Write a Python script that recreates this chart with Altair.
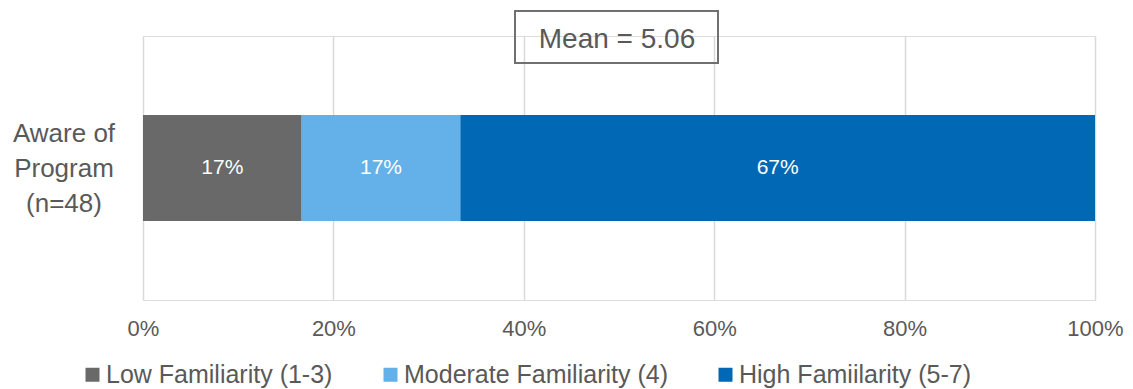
import altair as alt
import pandas as pd

# Survey responses among respondents aware of the program
levels = ["Low Familiarity (1-3)", "Moderate Familiarity (4)", "High Famiilarity (5-7)"]
counts = [8, 8, 32]
level_rank = [0, 1, 2]
group_label = "Aware of|Program|(n=48)"
level_colors = ["#696969", "#63B1E8", "#0068B5"]
mean_text = "Mean = 5.06"
tick_values = [0, 0.2, 0.4, 0.6, 0.8, 1.0]

FONT = "Liberation Sans"
TEXT_GREY = "#595959"

df = pd.DataFrame({
    "group": [group_label] * len(levels),
    "level": levels,
    "count": counts,
    "rank": level_rank,
})

base = (
    alt.Chart(df)
    .transform_joinaggregate(total="sum(count)")
    .transform_calculate(pct="datum.count / datum.total")
    .transform_window(cum="sum(pct)", sort=[alt.SortField("rank")], frame=[None, 0])
    .transform_calculate(start="datum.cum - datum.pct", mid="datum.cum - datum.pct / 2")
)

bars = base.mark_bar(size=106).encode(
    x=alt.X(
        "start:Q",
        scale=alt.Scale(domain=[0, 1], nice=False),
        axis=alt.Axis(
            values=tick_values,
            format="%",
            title=None,
            domain=False,
            ticks=False,
            grid=True,
            gridColor="#d9d9d9",
            gridWidth=1.5,
            labelFontSize=22,
            labelColor=TEXT_GREY,
            labelFont=FONT,
            labelPadding=18,
            labelFlush=False,
        ),
    ),
    x2="cum:Q",
    y=alt.Y("group:N", axis=None),
    color=alt.Color(
        "level:N",
        scale=alt.Scale(domain=levels, range=level_colors),
        legend=alt.Legend(
            title=None,
            orient="none",
            legendX=-63,
            legendY=326,
            direction="horizontal",
            symbolType="square",
            symbolSize=196,
            symbolStrokeWidth=0,
            labelFontSize=25,
            labelFont=FONT,
            labelColor=TEXT_GREY,
            labelOffset=1,
            labelLimit=500,
            columnPadding=45,
        ),
    ),
)

bar_labels = base.mark_text(color="white", fontSize=21, font=FONT).encode(
    x="mid:Q",
    y="group:N",
    text=alt.Text("pct:Q", format=".0%"),
)

group_text = (
    alt.Chart(pd.DataFrame({"group": [group_label]}))
    .mark_text(lineBreak="|", fontSize=26, lineHeight=35, align="center",
               baseline="middle", color=TEXT_GREY, font=FONT, dy=-34)
    .encode(x=alt.value(-79), y="group:N", text=alt.Text("label:N"))
    .transform_calculate(label="datum.group")
)

mean_df = pd.DataFrame({"t": [mean_text]})
mean_box = alt.Chart(mean_df).mark_rect(
    fill="transparent", stroke="#707070", strokeWidth=2
).encode(x=alt.value(372), x2=alt.value(575), y=alt.value(-25), y2=alt.value(27))
mean_label = alt.Chart(mean_df).mark_text(
    fontSize=28, font=FONT, color=TEXT_GREY, align="center", baseline="alphabetic"
).encode(x=alt.value(474), y=alt.value(12), text="t:N")

chart = (
    alt.layer(bars, bar_labels, group_text, mean_box, mean_label)
    .properties(
        width=952,
        height=264,
        autosize=alt.AutoSizeParams(type="none"),
        padding={"left": 143, "top": 36, "right": 38, "bottom": 89},
    )
    .configure_view(stroke=None)
    .configure(font=FONT)
)

chart.save("out.html", embed_options={"renderer": "svg", "actions": False})
